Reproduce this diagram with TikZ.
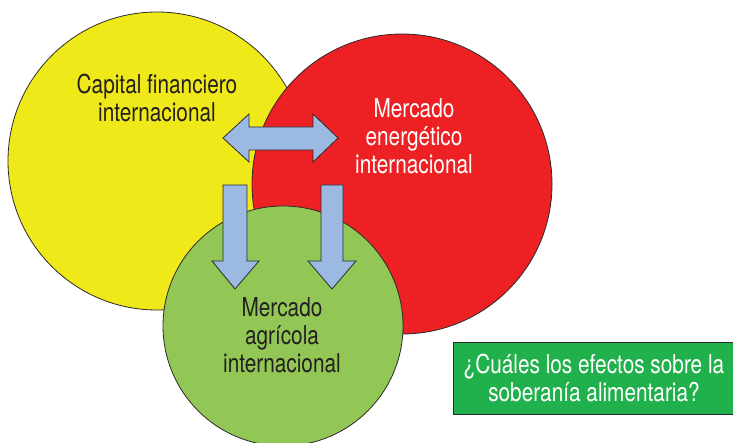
\documentclass[tikz,border=0pt]{standalone}
\usepackage{fontspec}
\setmainfont{TeX Gyre Heros}[FakeStretch=0.8]

\definecolor{amarillo}{HTML}{F0E91A}
\definecolor{rojo}{HTML}{ED2024}
\definecolor{verde}{HTML}{92C655}
\definecolor{verdecaja}{HTML}{20B04C}
\definecolor{azulflecha}{HTML}{9BB9E1}
\definecolor{borde}{HTML}{2B2B2B}
\definecolor{tinta}{HTML}{231F20}

\tikzset{
	circulo/.style={circle, draw=borde, line width=0.8pt, inner sep=0pt},
	texto/.style={align=center, font=\fontsize{26}{28}\selectfont, text=tinta},
	bloque/.style={draw=borde, line width=0.8pt, fill=azulflecha, line join=miter},
}

\begin{document}
\begin{tikzpicture}[x=1pt,y=-1pt]
		
		\useasboundingbox (0,0) rectangle (733,443);
		
		\node[circulo, fill=amarillo, minimum size=298pt] (capital) at (157,161) {};
		\node[circulo, fill=rojo, minimum size=300pt] (energia) at (402,184) {};
		\node[circulo, fill=verde, minimum size=240pt] (agricola) at (283,326) {};
		
		\node[texto] (capitaltxt) at (157,98) {Capital financiero\\internacional};
		\node[texto, text=white] (energiatxt) at (414,136) {Mercado\\energético\\internacional};
		\node[texto] (agricolatxt) at (282,335) {Mercado\\agrícola\\internacional};
		
		
		\draw[bloque] (223,138) -- (249,114) -- (249,127) -- (313,127) -- (313,114) -- (338,138) -- (313,162) -- (313,150) -- (249,150) -- (249,162) -- cycle;
		
		\draw[bloque] (223,185) -- (247,185) -- (247,261) -- (259,261) -- (235,289) -- (212,261) -- (223,261) -- cycle;
		\draw[bloque] (321,185) -- (343,185) -- (343,261) -- (356,261) -- (332,289) -- (308,261) -- (321,261) -- cycle;
		
		
		\node[draw=borde, line width=0.8pt, fill=verdecaja, minimum width=282pt, minimum height=72pt,
			texto, text=white] (pregunta) at (594,378)
			{¿Cuáles los efectos sobre la\\soberanía alimentaria?};
		
\end{tikzpicture}
\end{document}
